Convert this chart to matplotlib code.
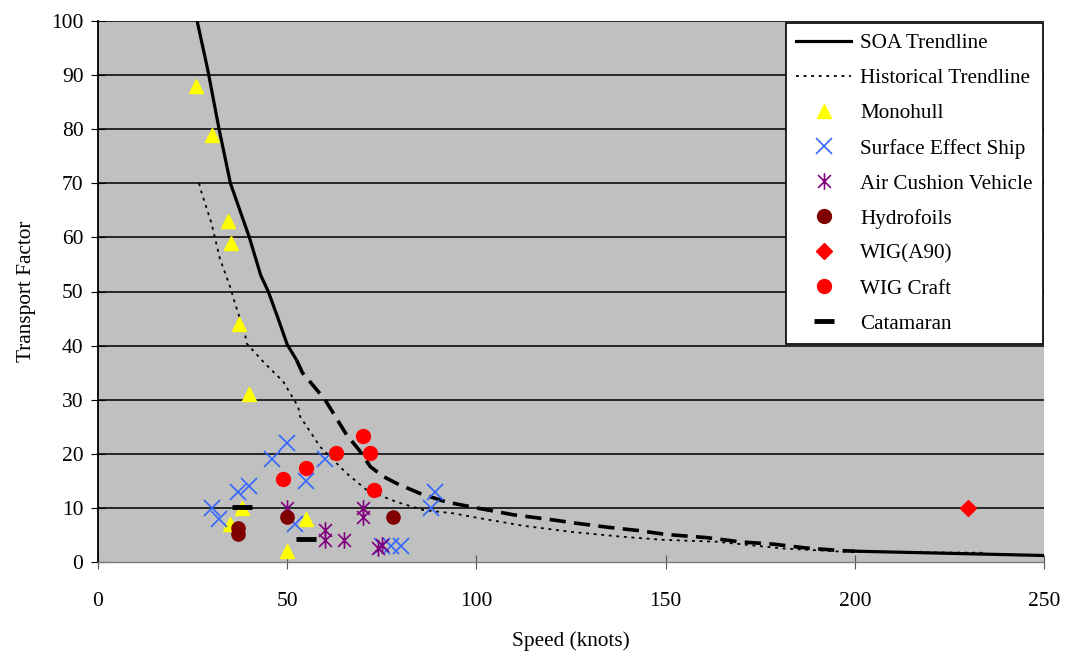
import matplotlib
matplotlib.use("Agg")
import matplotlib.pyplot as plt
from matplotlib.path import Path
from matplotlib.lines import Line2D

# ---------------- data ----------------
soa_solid_x = [26.2, 29, 32, 35, 37, 40, 43, 45, 47.6, 50, 52.5]
soa_solid_y = [100, 91, 80, 70, 66, 60, 53, 50, 45, 40.2, 37.3]
soa_dash_x = [52.5, 54, 60, 65.7, 69, 72, 75.4, 79, 85, 92, 100, 110, 119, 126, 135, 143, 150, 161, 170, 178.5, 187, 196.5, 200]
soa_dash_y = [37.3, 35, 30, 23.5, 20.7, 17.6, 15.8, 14.5, 12.7, 11.1, 10, 8.7, 7.9, 7.2, 6.4, 5.8, 5.1, 4.5, 3.7, 3.3, 2.6, 2.1, 2.0]
soa_tail_x = [200, 225, 250]
soa_tail_y = [2.0, 1.6, 1.2]

hist_x = [26.7, 27.4, 30, 32.2, 34.9, 36.2, 38.8, 39.3, 43.7, 49, 52.9, 53.4, 58.7, 65.7, 71, 78.9, 86, 93.9, 100, 112.4, 124.7, 138, 149.3, 163.5, 181, 197, 216.3, 234.8]
hist_y = [70, 68.2, 62.6, 56.1, 50.9, 47.8, 42.3, 40.4, 37, 33.3, 28.7, 26.9, 21.3, 16.4, 13.3, 11.1, 9.6, 9.0, 8.2, 6.7, 5.6, 4.7, 4.1, 3.75, 2.5, 1.9, 1.8, 1.7]

mono_x = [26, 30, 34.4, 35.1, 37.2, 40, 38, 35, 55, 50]
mono_y = [88, 79, 63, 59, 44, 31, 10, 7, 8, 2]

ses_x = [30, 32, 37, 40, 46, 50, 55, 60, 52, 75, 77.5, 80, 89, 88]
ses_y = [10, 8, 13, 14, 19, 22, 15, 19, 7, 3, 3, 3, 13, 10]

acv_x = [50, 70, 70, 60, 60, 65, 74, 75]
acv_y = [10, 10, 8.4, 6, 4, 4, 2.6, 3.1]

hydro_x = [37, 37, 50, 78]
hydro_y = [6.2, 5.2, 8.3, 8.3]

a90_x = [230]
a90_y = [10]

wig_x = [49, 55, 63, 70, 72, 73]
wig_y = [15.3, 17.3, 20.2, 23.3, 20.2, 13.3]

cat_x = [38, 55]
cat_y = [10.2, 4.2]

x_ticks = [0, 50, 100, 150, 200, 250]
y_ticks = [0, 10, 20, 30, 40, 50, 60, 70, 80, 90, 100]

# ---------------- style ----------------
plt.rcParams['font.family'] = ['Liberation Serif', 'DejaVu Serif']

fig = plt.figure(figsize=(10.67, 6.58), dpi=100)
ax = fig.add_axes([98/1067, 1-562/658, (1044-98)/1067, (562-21)/658])
ax.set_facecolor('#C0C0C0')
ax.set_xlim(0, 250)
ax.set_ylim(0, 100)
ax.set_xticks(x_ticks)
ax.set_yticks(y_ticks)
ax.tick_params(axis='both', labelsize=15.5, direction='inout', length=10, width=0.8, colors='black')
ax.tick_params(axis='x', pad=16.5, color='#555555')
ax.tick_params(axis='y', pad=5.5)

for y in y_ticks[1:]:
    ax.axhline(y, color='#1a1a1a', lw=1.3, zorder=1)

for s in ['top', 'right']:
    ax.spines[s].set_visible(False)
ax.spines['left'].set_color('black')
ax.spines['left'].set_linewidth(1.3)
ax.spines['bottom'].set_color('#7a7a7a')
ax.spines['bottom'].set_linestyle((0, (2, 1)))
ax.spines['bottom'].set_linewidth(1.0)

ax.set_xlabel('Speed (knots)', fontsize=15.3, labelpad=14.5)
ax.set_ylabel('Transport Factor', fontsize=15.3, labelpad=11)

# lines
ax.plot(soa_solid_x, soa_solid_y, color='black', lw=2.3, zorder=3, solid_capstyle='butt')
ax.plot(soa_dash_x, soa_dash_y, color='black', lw=2.6, ls=(0, (4.5, 2.3)), zorder=3)
ax.plot(soa_tail_x, soa_tail_y, color='black', lw=2.3, zorder=3)
ax.plot(hist_x, hist_y, color='black', lw=1.3, ls=(0, (1.6, 2.6)), zorder=3)

# asterisk marker (X plus vertical bar)
star = Path([(-1, -1), (1, 1), (-1, 1), (1, -1), (0, -1.3), (0, 1.3)],
            [Path.MOVETO, Path.LINETO, Path.MOVETO, Path.LINETO, Path.MOVETO, Path.LINETO])

ax.plot(mono_x, mono_y, ls='none', marker='^', ms=10, mfc='#FFFF00', mec='#FFFF00', zorder=4)
ax.plot(ses_x, ses_y, ls='none', marker='x', ms=12, mew=1.2, color='#3366FF', zorder=4)
ax.plot(acv_x, acv_y, ls='none', marker=star, ms=12, mew=1.2, color='#800080', zorder=4)
ax.plot(hydro_x, hydro_y, ls='none', marker='o', ms=9.5, color='#800000', zorder=4)
ax.plot(a90_x, a90_y, ls='none', marker='D', ms=8, color='#FF0000', zorder=4)
ax.plot(wig_x, wig_y, ls='none', marker='o', ms=10, color='#FF0000', zorder=4)
ax.plot(cat_x, cat_y, ls='none', marker='_', ms=14, mew=3.5, color='black', zorder=4)

handles = [
    Line2D([], [], color='black', lw=2.3),
    Line2D([], [], color='black', lw=1.3, ls=(0, (1.6, 2.6))),
    Line2D([], [], ls='none', marker='^', ms=10, mfc='#FFFF00', mec='#FFFF00'),
    Line2D([], [], ls='none', marker='x', ms=12, mew=1.2, color='#3366FF'),
    Line2D([], [], ls='none', marker=star, ms=12, mew=1.2, color='#800080'),
    Line2D([], [], ls='none', marker='o', ms=10, color='#800000'),
    Line2D([], [], ls='none', marker='D', ms=8, color='#FF0000'),
    Line2D([], [], ls='none', marker='o', ms=10, color='#FF0000'),
    Line2D([], [], ls='none', marker='_', ms=14, mew=3.5, color='black'),
]
labels = ['SOA Trendline', 'Historical Trendline', 'Monohull', 'Surface Effect Ship',
          'Air Cushion Vehicle', 'Hydrofoils', 'WIG(A90)', 'WIG Craft', 'Catamaran']
leg = ax.legend(handles, labels, loc='upper right', bbox_to_anchor=(0.999, 0.996),
                borderaxespad=0, fontsize=15.2, frameon=True, fancybox=False,
                edgecolor='black', facecolor='white', framealpha=1,
                labelspacing=0.72, handlelength=2.6, handletextpad=0.42,
                borderpad=0.5)
leg.get_frame().set_linewidth(1.2)
leg.set_zorder(10)

fig.savefig('out.png', dpi=100, facecolor='white')
